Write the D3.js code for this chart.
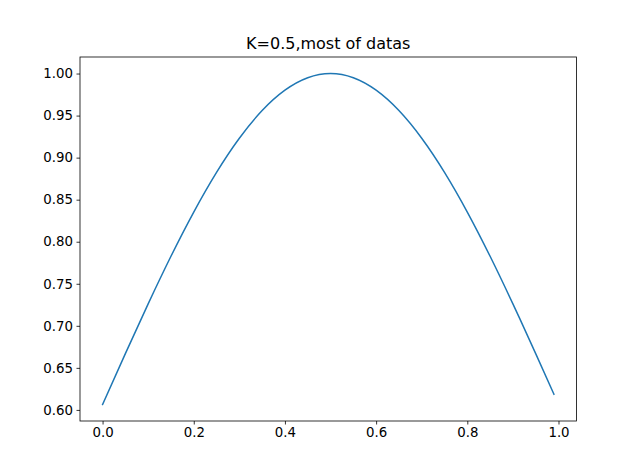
<!DOCTYPE html>
<html>
<head>
<meta charset="utf-8">
<script src="https://cdn.jsdelivr.net/npm/d3@7"></script>
<style>
  body { margin: 0; background: #fff; }
  svg { display: block; font-family: "DejaVu Sans", sans-serif; }
</style>
</head>
<body>
<svg class="chart" width="640" height="473"></svg>
<script>
const title = "K=0.5,most of datas";
const xValues = [0, 0.05, 0.1, 0.15, 0.2, 0.25, 0.3, 0.35, 0.4, 0.45, 0.5,
  0.55, 0.6, 0.65, 0.7, 0.75, 0.8, 0.85, 0.9, 0.95, 0.99];
const yValues = [0.6065, 0.6670, 0.7261, 0.7827, 0.8353, 0.8825, 0.9231, 0.9560, 0.9802, 0.9950, 1.0,
  0.9950, 0.9802, 0.9560, 0.9231, 0.8825, 0.8353, 0.7827, 0.7261, 0.6670, 0.6187];
const xTicks = [0.0, 0.2, 0.4, 0.6, 0.8, 1.0];
const yTicks = [0.60, 0.65, 0.70, 0.75, 0.80, 0.85, 0.90, 0.95, 1.00];

(function () {
  const svg = d3.select(".chart");
  const plotLeft = 80, plotRight = 576.5, plotTop = 57, plotBottom = 421;

  // matplotlib-style 5% margins
  const xExt = d3.extent(xValues), yExt = d3.extent(yValues);
  const xPad = (xExt[1] - xExt[0]) * 0.05, yPad = (yExt[1] - yExt[0]) * 0.05;

  const x = d3.scaleLinear().domain([xExt[0] - xPad, xExt[1] + xPad]).range([plotLeft, plotRight]);
  const y = d3.scaleLinear().domain([yExt[0] - yPad, yExt[1] + yPad]).range([plotBottom, plotTop]);

  const data = xValues.map((v, i) => ({ x: v, y: yValues[i] }));

  const line = d3.line()
    .x((d) => x(d.x))
    .y((d) => y(d.y))
    .curve(d3.curveNatural);

  svg.append("path")
    .datum(data)
    .attr("fill", "none")
    .attr("stroke", "#1f77b4")
    .attr("stroke-width", 1.5)
    .attr("stroke-linecap", "square")
    .attr("d", line);

  const xAxis = svg.append("g")
    .attr("transform", `translate(0,${plotBottom})`)
    .call(d3.axisBottom(x).tickValues(xTicks).tickFormat(d3.format(".1f")).tickSizeInner(3.5).tickSizeOuter(0).tickPadding(3.5));

  const yAxis = svg.append("g")
    .attr("transform", `translate(${plotLeft},0)`)
    .call(d3.axisLeft(y).tickValues(yTicks).tickFormat(d3.format(".2f")).tickSizeInner(3.5).tickSizeOuter(0).tickPadding(3.5));

  [xAxis, yAxis].forEach((g) => {
    g.select(".domain").remove();
    g.selectAll(".tick line").attr("stroke", "#000").attr("stroke-width", 0.8);
    g.selectAll(".tick text")
      .attr("fill", "#000")
      .attr("font-size", "13.33px")
      .attr("font-family", "DejaVu Sans, sans-serif");
  });

  svg.append("rect")
    .attr("x", plotLeft)
    .attr("y", plotTop)
    .attr("width", plotRight - plotLeft)
    .attr("height", plotBottom - plotTop)
    .attr("fill", "none")
    .attr("stroke", "#000")
    .attr("stroke-width", 0.8);

  svg.append("text")
    .attr("x", (plotLeft + plotRight) / 2)
    .attr("y", plotTop - 8)
    .attr("text-anchor", "middle")
    .attr("font-size", "16px")
    .attr("fill", "#000")
    .text(title);
})();
</script>
</body>
</html>
